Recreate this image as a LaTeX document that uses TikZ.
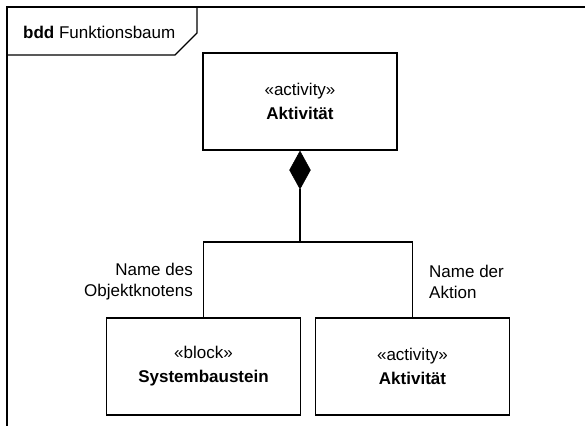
\documentclass[tikz,border=0pt]{standalone}
\usepackage{fontspec}
\setmainfont{Liberation Sans}
\usetikzlibrary{shapes.geometric}
\begin{document}
\begin{tikzpicture}[x=1pt,y=-1pt,
  blockbox/.style={draw, line width=1.6pt, minimum width=194pt, minimum height=97pt, inner sep=0pt, align=center, font=\fontsize{17}{24}\selectfont},
  conn/.style={line width=1.6pt},
  lbl/.style={inner sep=0pt, font=\fontsize{17}{21}\selectfont}]
\useasboundingbox (0,0) rectangle (585,425);
% frame
\draw[line width=1.5pt] (7,430) -- (7,7) -- (590,7);
\draw[line width=1.2pt] (7,55) -- (175,55) -- (197,33) -- (197,7);
\node[anchor=west, inner sep=0pt, font=\fontsize{17}{20}\selectfont] (hdr) at (23,32) {\textbf{bdd} Funktionsbaum};
% blocks
\node[blockbox] (top) at (300,101.5) {«activity»\\\textbf{Aktivität}};
\node[blockbox] (bl) at (203.5,366.5) {«block»\\\textbf{Systembaustein}};
\node[blockbox] (br) at (412.5,366.5) {«activity»\\\textbf{Aktivität}};
% composition
\node[diamond, fill=black, draw=black, line width=0.5pt, minimum width=21pt, minimum height=38pt, inner sep=0pt, anchor=north] (dia) at (top.south) {};
\coordinate (j) at (300,242);
\draw[conn] (dia.south) -- (j);
\draw[conn] (j) -| (bl.north);
\draw[conn] (j) -| (br.north);
% labels
\node[lbl, anchor=east, align=right] (ln) at (193,282) {Name des\\Objektknotens};
\node[lbl, anchor=west, align=left] (rn) at (429,282) {Name der\\Aktion};
\end{tikzpicture}
\end{document}
